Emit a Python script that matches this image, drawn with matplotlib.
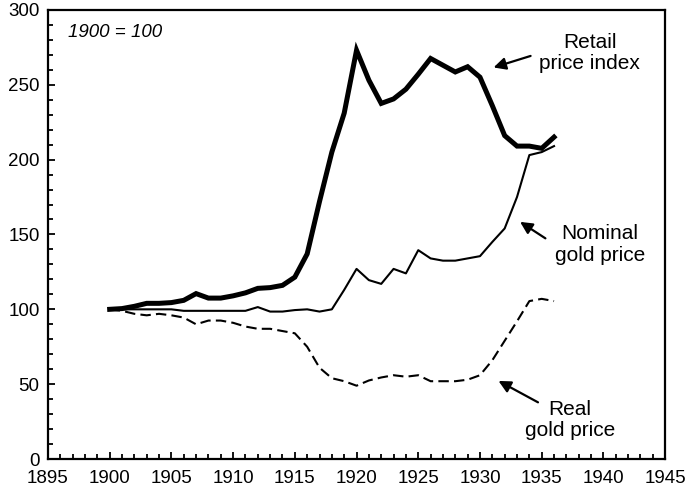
import numpy as np
import matplotlib
matplotlib.use("Agg")
import matplotlib.pyplot as plt
from matplotlib.ticker import MultipleLocator

plt.rcParams['font.family'] = ['Liberation Sans', 'DejaVu Sans']

years = list(range(1900, 1937))
retail = [100, 100.5, 102, 104, 104, 104.5, 106, 110.5, 107.5, 107.5,
          109, 111, 114, 114.5, 116, 121.5, 137, 172, 205, 231,
          273, 253, 237.5, 240.5, 247, 257, 267.5, 263, 258.5, 262,
          255, 236, 216, 209, 209, 207.5, 215]
nominal = [100, 100, 100, 100, 100, 100, 99, 99, 99, 99,
           99, 99, 101.5, 98.5, 98.5, 99.5, 100, 98.5, 100, 113,
           127, 119.5, 117, 127, 124, 139.5, 134, 132.5, 132.5, 134,
           135.5, 145, 154, 175, 203, 205, 209]
real = [100, 99, 97, 96, 97, 96, 94.5, 90, 92.5, 92.5,
        91, 88.5, 87, 87, 85.5, 84, 75, 61, 54, 52,
        49, 52.5, 54.5, 56, 55, 56, 52, 52, 52, 53,
        56, 66, 79, 92, 105.5, 107, 105.5]

fig = plt.figure(figsize=(6.85, 4.91), dpi=100)
# axes box: spines at x 48..665 px, y 10..459 px
ax = fig.add_axes([0.070, 0.065, 0.901, 0.915])

ax.plot(years, retail, color='black', lw=3.6, solid_joinstyle='miter')
ax.plot(years, nominal, color='black', lw=1.5)
ax.plot(years, real, color='black', lw=1.5, dashes=(5, 2.5))

ax.set_xlim(1895, 1945)
ax.set_ylim(0, 300)
ax.xaxis.set_major_locator(MultipleLocator(5))
ax.xaxis.set_minor_locator(MultipleLocator(1))
ax.yaxis.set_major_locator(MultipleLocator(50))
ax.yaxis.set_minor_locator(MultipleLocator(10))
ax.tick_params(which='both', direction='in', labelsize=13.5, width=1.3, color='black')
ax.tick_params(which='major', length=5)
ax.tick_params(which='minor', length=3.5)
ax.tick_params(axis='x', pad=8)
ax.tick_params(axis='y', pad=6)
for s in ax.spines.values():
    s.set_linewidth(1.6)

ax.text(1896.6, 285, '1900 = 100', style='italic', fontsize=13.5, va='center', ha='left')

arrow = dict(arrowstyle='-|>', lw=1.6, color='black', mutation_scale=18, shrinkA=0, shrinkB=0)
ax.text(1938.9, 271, 'Retail\nprice index', fontsize=15, ha='center', va='center', linespacing=1.15)
ax.annotate('', xy=(1931.1, 261.5), xytext=(1934.1, 269.2), arrowprops=arrow)
ax.text(1939.7, 143.3, 'Nominal\ngold price', fontsize=15, ha='center', va='center', linespacing=1.15)
ax.annotate('', xy=(1933.25, 158.4), xytext=(1935.3, 147.4), arrowprops=arrow)
ax.text(1937.3, 26, 'Real\ngold price', fontsize=15, ha='center', va='center', linespacing=1.15)
ax.annotate('', xy=(1931.5, 52.2), xytext=(1934.7, 37.9), arrowprops=arrow)

fig.savefig('out.png', dpi=100)
